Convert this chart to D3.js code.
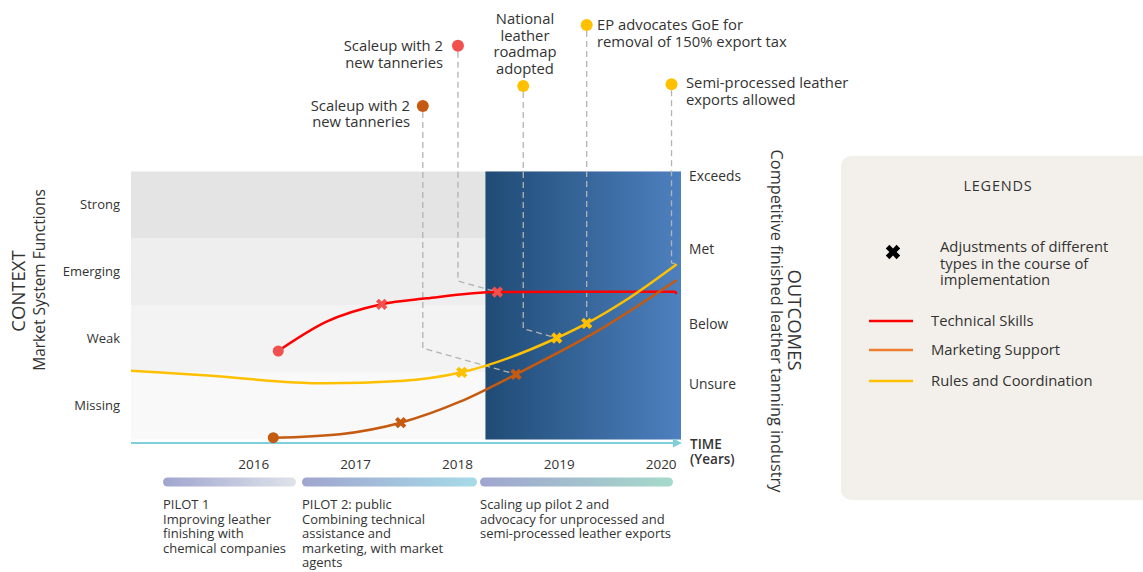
<!DOCTYPE html>
<html>
<head>
<meta charset="utf-8">
<script src="https://cdn.jsdelivr.net/npm/d3@7"></script>
<style>
  body { margin: 0; background: #fff; }
  svg { display: block; }
  text { font-family: "Open Sans", sans-serif; fill: #333; }
</style>
</head>
<body>
<svg id="chart" width="1143" height="572"></svg>
<script>
// ---- Data ----
const years = [2016, 2017, 2018, 2019, 2020];
const contextLevels = ["Missing", "Weak", "Emerging", "Strong"];
const outcomeLabels = ["Unsure", "Below", "Met", "Exceeds"];
const outcomeValues = [0.82, 1.73, 2.84, 3.93];
const scaleUpStart = 2018.28;

const techYears  = [2016.246, 2016.72, 2017.261, 2017.703, 2018.397, 2019.2, 2020.141, 2020.156];
const techValues = [1.321, 1.758, 2.018, 2.107, 2.201, 2.206, 2.206, 2.172];
const techMarks  = ["dot", "", "x", "", "x", "", "", ""];

const mktYears  = [2016.197, 2016.852, 2017.448, 2018.03, 2018.58, 2019.369, 2020.158];
const mktValues = [0.027, 0.08, 0.251, 0.564, 0.973, 1.609, 2.381];
const mktMarks  = ["dot", "", "x", "", "x", "", ""];

const rulesYears  = [2014.8, 2015.477, 2016.705, 2017.441, 2018.047, 2018.98, 2019.274, 2019.699, 2020.158];
const rulesValues = [1.027, 0.963, 0.839, 0.873, 1.003, 1.515, 1.734, 2.12, 2.615];
const rulesMarks  = ["", "", "", "", "x", "x", "x", "", ""];

const seriesNames = ["Technical Skills", "Marketing Support", "Rules and Coordination"];

const phaseLabels = [
  ["PILOT 1", "Improving leather", "finishing with", "chemical companies"],
  ["PILOT 2: public", "Combining technical", "assistance and", "marketing, with market", "agents"],
  ["Scaling up pilot 2 and", "advocacy for unprocessed and", "semi-processed leather exports"]
];

const eventLabels = [
  ["Scaleup with 2", "new tanneries"],
  ["Scaleup with 2", "new tanneries"],
  ["National", "leather", "roadmap", "adopted"],
  ["EP advocates GoE for", "removal of 150% export tax"],
  ["Semi-processed leather", "exports allowed"]
];
const eventSeries = [1, 0, 2, 2, 2];
const eventPoints = [4, 4, 5, 6, 8];

// ---- Layout & styles ----
const lineColors   = ["#ff0000", "#c55a11", "#ffc000"];
const markColors   = ["#f24f4f", "#c55a11", "#ffc000"];
const legendColors = ["#ff0000", "#ed7d31", "#ffc000"];
const bandColors   = ["#f9f9f9", "#f3f3f3", "#eeeeee", "#e4e4e4"];

const plot = { left: 131, right: 681, top: 171.5, bottom: 439.5, axisY: 443 };

const eventLayout = [
  { dotX: 2017.665, dotY: 106, anchor: "end",    tx: 410, ty: 110.5, lh: 16 },
  { dotX: 2018.01,  dotY: 45.7, anchor: "end",   tx: 443, ty: 51,   lh: 16.5 },
  { dotX: 2018.651, dotY: 86,  anchor: "middle", tx: 525, ty: 24,   lh: 16.7 },
  { dotX: 2019.274, dotY: 25,  anchor: "start",  tx: 597, ty: 30,   lh: 17 },
  { dotX: 2020.107, dotY: 84.3, anchor: "start", tx: 686, ty: 88,   lh: 16.5 }
];

const phaseLayout = [
  { x0: 163, x1: 296, c1: "#a0a5cf", c2: "#dfe3ea" },
  { x0: 302, x1: 477, c1: "#a0a5cf", c2: "#a6dbe8" },
  { x0: 480, x1: 673, c1: "#a0a5cf", c2: "#a6dacb" }
];

const svg = d3.select("#chart");
const defs = svg.append("defs");

const x = d3.scaleLinear().domain([2014.8, 2020.2]).range([plot.left, plot.right]);
const y = d3.scaleLinear().domain([0, 4]).range([plot.bottom, plot.top]);
const band = d3.scaleBand().domain(contextLevels).range([plot.bottom, plot.top]);

// ---- Context bands ----
svg.append("g").selectAll("rect").data(contextLevels).join("rect")
  .attr("x", plot.left)
  .attr("y", d => band(d))
  .attr("width", plot.right - plot.left)
  .attr("height", band.bandwidth())
  .attr("fill", (d, i) => bandColors[i]);

// ---- Scale-up period panel ----
const blueGrad = defs.append("linearGradient").attr("id", "scaleGrad")
  .attr("x1", "0%").attr("x2", "100%").attr("y1", "0%").attr("y2", "0%");
blueGrad.append("stop").attr("offset", "0%").attr("stop-color", "#1f4b75");
blueGrad.append("stop").attr("offset", "100%").attr("stop-color", "#4d80bf");
svg.append("rect")
  .attr("x", x(scaleUpStart)).attr("y", plot.top)
  .attr("width", x.range()[1] - x(scaleUpStart))
  .attr("height", plot.bottom - plot.top)
  .attr("fill", "url(#scaleGrad)");

// ---- Time axis ----
svg.append("line")
  .attr("x1", plot.left).attr("x2", plot.right - 6)
  .attr("y1", plot.axisY).attr("y2", plot.axisY)
  .attr("stroke", "#7fcfd8").attr("stroke-width", 2);
svg.append("path")
  .attr("d", `M${plot.right + 1},${plot.axisY} L${plot.right - 8},${plot.axisY - 4.5} L${plot.right - 8},${plot.axisY + 4.5} Z`)
  .attr("fill", "#7fcfd8");

const xAxis = svg.append("g")
  .attr("transform", `translate(0,${plot.axisY})`)
  .call(d3.axisBottom(x).tickValues(years).tickFormat(d3.format("d")).tickSize(0).tickPadding(16));
xAxis.select(".domain").remove();
xAxis.selectAll("text").attr("font-size", 13.5).attr("font-family", "Open Sans").attr("fill", "#333");

svg.append("text").attr("x", 690).attr("y", 449).attr("font-size", 13.5).attr("font-weight", 600).attr("fill", "#222").text("TIME");
svg.append("text").attr("x", 690).attr("y", 464).attr("font-size", 13.5).attr("font-weight", 600).attr("fill", "#222").text("(Years)");

// ---- Left (context) axis ----
const yLeft = svg.append("g")
  .attr("transform", `translate(${plot.left},0)`)
  .call(d3.axisLeft(band).tickSize(0).tickPadding(11));
yLeft.select(".domain").remove();
yLeft.selectAll("text").attr("font-size", 13).attr("font-family", "Open Sans").attr("fill", "#333");

// ---- Right (outcome) axis ----
const yRight = svg.append("g")
  .attr("transform", `translate(${plot.right},0)`)
  .call(d3.axisRight(y).tickValues(outcomeValues)
    .tickFormat((d, i) => outcomeLabels[i]).tickSize(0).tickPadding(8));
yRight.select(".domain").remove();
yRight.selectAll("text").attr("font-size", 13.8).attr("font-family", "Open Sans").attr("fill", "#333");

// ---- Axis titles ----
svg.append("text").attr("transform", "translate(25,291) rotate(-90)")
  .attr("text-anchor", "middle").attr("font-size", 18.5).attr("fill", "#222").text("CONTEXT");
svg.append("text").attr("transform", "translate(45,280) rotate(-90)")
  .attr("text-anchor", "middle").attr("font-size", 15.5).attr("fill", "#222").text("Market System Functions");
svg.append("text").attr("transform", "translate(788,320) rotate(90)")
  .attr("text-anchor", "middle").attr("font-size", 18.5).attr("fill", "#222").text("OUTCOMES");
svg.append("text").attr("transform", "translate(771,321) rotate(90)")
  .attr("text-anchor", "middle").attr("font-size", 16.3).attr("fill", "#222")
  .text("Competitive finished leather tanning industry");

// ---- Series ----
const series = [
  { years: techYears,  values: techValues,  marks: techMarks },
  { years: mktYears,   values: mktValues,   marks: mktMarks },
  { years: rulesYears, values: rulesValues, marks: rulesMarks }
].map((s, k) => ({
  k,
  points: s.years.map((yr, i) => ({ year: yr, value: s.values[i], mark: s.marks[i] }))
}));

// ---- Event call-outs (dashed leaders drawn beneath the series) ----
const leaders = svg.append("g");
eventLabels.forEach((lines, i) => {
  const L = eventLayout[i];
  const p = series[eventSeries[i]].points[eventPoints[i]];
  const dx = x(L.dotX), px = x(p.year), py = y(p.value);
  const elbowY = py - 0.28 * (px - dx);
  leaders.append("path")
    .attr("d", `M${dx},${L.dotY + 6} L${dx},${elbowY} L${px},${py}`)
    .attr("fill", "none").attr("stroke", "#b3b3b3")
    .attr("stroke-width", 1.3).attr("stroke-dasharray", "6,4");
  svg.append("circle").attr("cx", dx).attr("cy", L.dotY).attr("r", 6)
    .attr("fill", markColors[eventSeries[i]]);
  const t = svg.append("text").attr("text-anchor", L.anchor).attr("font-size", 14.8);
  lines.forEach((ln, j) => t.append("tspan").attr("x", L.tx).attr("y", L.ty + j * L.lh).text(ln));
});

const line = d3.line().x(d => x(d.year)).y(d => y(d.value)).curve(d3.curveMonotoneX);
const xMark = d3.symbol(d3.symbolCross, 80);

series.forEach(s => {
  svg.append("path").datum(s.points)
    .attr("d", line).attr("fill", "none")
    .attr("stroke", lineColors[s.k]).attr("stroke-width", 2.5);
  svg.append("g").selectAll("circle").data(s.points.filter(d => d.mark === "dot")).join("circle")
    .attr("cx", d => x(d.year)).attr("cy", d => y(d.value)).attr("r", 5.5)
    .attr("fill", markColors[s.k]);
  svg.append("g").selectAll("path").data(s.points.filter(d => d.mark === "x")).join("path")
    .attr("d", xMark)
    .attr("transform", d => `translate(${x(d.year)},${y(d.value)}) rotate(45)`)
    .attr("fill", markColors[s.k]);
});

// ---- Programme phases ----
phaseLayout.forEach((ph, i) => {
  const g = defs.append("linearGradient").attr("id", "phase" + i)
    .attr("x1", "0%").attr("x2", "100%");
  g.append("stop").attr("offset", "0%").attr("stop-color", ph.c1);
  g.append("stop").attr("offset", "100%").attr("stop-color", ph.c2);
  svg.append("rect").attr("x", ph.x0).attr("y", 477.5)
    .attr("width", ph.x1 - ph.x0).attr("height", 9).attr("rx", 4.5)
    .attr("fill", `url(#phase${i})`);
  const t = svg.append("text").attr("font-size", 13);
  phaseLabels[i].forEach((ln, j) => t.append("tspan").attr("x", ph.x0).attr("y", 509 + j * 14.5).text(ln));
});

// ---- Legend ----
const lg = svg.append("g");
lg.append("rect").attr("x", 841).attr("y", 156).attr("width", 330).attr("height", 344)
  .attr("rx", 10).attr("fill", "#f3f0eb");
lg.append("text").attr("x", 998).attr("y", 191).attr("text-anchor", "middle")
  .attr("font-size", 14.5).attr("letter-spacing", 0.8).attr("fill", "#222").text("LEGENDS");
lg.append("path").attr("d", d3.symbol(d3.symbolCross, 130))
  .attr("transform", "translate(893,252) rotate(45)").attr("fill", "#000");
const adj = lg.append("text").attr("font-size", 14.8);
["Adjustments of different", "types in the course of", "implementation"].forEach((ln, j) =>
  adj.append("tspan").attr("x", 940).attr("y", 252 + j * 16.5).text(ln));
seriesNames.forEach((name, i) => {
  const ly = [321, 350, 381][i];
  lg.append("line").attr("x1", 869).attr("x2", 913).attr("y1", ly).attr("y2", ly)
    .attr("stroke", legendColors[i]).attr("stroke-width", 2.5);
  lg.append("text").attr("x", 931).attr("y", ly + 5).attr("font-size", 14.8).text(name);
});
</script>
</body>
</html>
